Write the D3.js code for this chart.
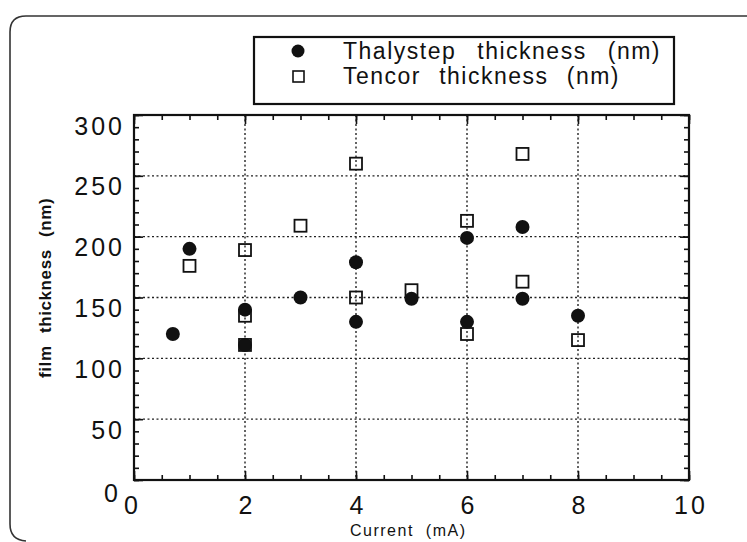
<!DOCTYPE html>
<html>
<head>
<meta charset="utf-8">
<script src="https://cdn.jsdelivr.net/npm/d3@7"></script>
<style>
  body { margin: 0; background: #fff; }
  svg { display: block; }
  text { font-family: "Liberation Sans", Arial, sans-serif; fill: #111; }
</style>
</head>
<body>
<div id="wrapper"></div>
<script>
// data
const thalyCurrent = [0.7, 1, 2, 2, 3, 4, 4, 5, 6, 6, 7, 7, 8]
const thalyValues  = [120, 190, 140, 111, 150, 179, 130, 149, 199, 130, 208, 149, 135]
const tencorCurrent = [1, 2, 2, 2, 3, 4, 4, 5, 6, 6, 7, 7, 8]
const tencorValues  = [176, 189, 135, 111, 209, 260, 150, 156, 213, 120, 268, 163, 115]

const xTicks = [0, 2, 4, 6, 8, 10]
const yTicks = [0, 50, 100, 150, 200, 250, 300]
const seriesNames = ['Thalystep thickness (nm)', 'Tencor thickness (nm)']

function drawChart() {
    const width = 747, height = 542
    const plot = { left: 134, right: 689, top: 115, bottom: 480 }

    const svg = d3.select('#wrapper').append('svg')
        .attr('width', width)
        .attr('height', height)

    // outer rounded frame (runs off the right edge)
    svg.append('path')
        .attr('d', `M ${width + 5} 16 L 26 16 Q 10 16 10 32 L 10 524 Q 10 540 26 541`)
        .attr('fill', 'none')
        .attr('stroke', '#333')
        .attr('stroke-width', 1.6)

    const x = d3.scaleLinear().domain([0, 10]).range([plot.left, plot.right])
    const y = d3.scaleLinear().domain([0, 300]).range([plot.bottom, plot.top])

    // grid
    const grid = svg.append('g').attr('class', 'grid')
        .attr('stroke', '#222').attr('stroke-width', 1.4).attr('stroke-dasharray', '2,2.5')
    grid.selectAll('.hgrid').data(yTicks.filter(d => d > 0 && d < 300))
        .enter().append('line')
        .attr('x1', plot.left).attr('x2', plot.right)
        .attr('y1', d => y(d)).attr('y2', d => y(d))
    grid.selectAll('.vgrid').data(xTicks.filter(d => d > 0 && d < 10))
        .enter().append('line')
        .attr('y1', plot.top).attr('y2', plot.bottom)
        .attr('x1', d => x(d)).attr('x2', d => x(d))

    // axes, ticks pointing inward
    const xMinor = d3.range(0, 10.01, 0.5)
    const yMinor = d3.range(0, 300.1, 10)

    function styleAxis(g) {
        g.select('.domain').remove()
        g.selectAll('line').attr('stroke', '#111').attr('stroke-width', 1.6)
    }

    svg.append('g').attr('transform', `translate(0,${plot.bottom})`)
        .call(d3.axisBottom(x).tickValues(xMinor).tickSize(-5).tickFormat(''))
        .call(styleAxis)
    svg.append('g').attr('transform', `translate(0,${plot.top})`)
        .call(d3.axisTop(x).tickValues(xMinor).tickSize(-5).tickFormat(''))
        .call(styleAxis)
    svg.append('g').attr('transform', `translate(${plot.left},0)`)
        .call(d3.axisLeft(y).tickValues(yMinor).tickSize(-5).tickFormat(''))
        .call(styleAxis)
    svg.append('g').attr('transform', `translate(${plot.right},0)`)
        .call(d3.axisRight(y).tickValues(yMinor).tickSize(-5).tickFormat(''))
        .call(styleAxis)

    const xAxis = svg.append('g').attr('transform', `translate(0,${plot.bottom})`)
        .call(d3.axisBottom(x).tickValues(xTicks).tickSize(-9).tickPadding(16).tickFormat(d3.format('d')))
        .call(styleAxis)
    xAxis.selectAll('text')
        .style('font-size', '25px').style('letter-spacing', '3px')
        .attr('dx', 1.5)
    xAxis.selectAll('.tick').filter(d => d === 0).select('text').attr('dx', -2)

    svg.append('g').attr('transform', `translate(0,${plot.top})`)
        .call(d3.axisTop(x).tickValues(xTicks).tickSize(-9).tickFormat(''))
        .call(styleAxis)

    const yAxis = svg.append('g').attr('transform', `translate(${plot.left},0)`)
        .call(d3.axisLeft(y).tickValues(yTicks).tickSize(-9).tickPadding(9).tickFormat(d3.format('d')))
        .call(styleAxis)
    yAxis.selectAll('text')
        .style('font-size', '25px').style('letter-spacing', '3px')
        .attr('dy', 19)
    yAxis.selectAll('.tick').filter(d => d === 0).select('text').attr('dx', -4).attr('dy', 21)

    svg.append('g').attr('transform', `translate(${plot.right},0)`)
        .call(d3.axisRight(y).tickValues(yTicks).tickSize(-9).tickFormat(''))
        .call(styleAxis)

    // plot frame
    svg.append('rect')
        .attr('x', plot.left).attr('y', plot.top)
        .attr('width', plot.right - plot.left).attr('height', plot.bottom - plot.top)
        .attr('fill', 'none').attr('stroke', '#111').attr('stroke-width', 2.2)

    // axis titles
    svg.append('text')
        .attr('x', 350).attr('y', 536)
        .style('font-size', '16px').style('letter-spacing', '1.5px').style('word-spacing', '6px')
        .text('Current (mA)')

    svg.append('text')
        .attr('transform', 'translate(51,378) rotate(-90)')
        .style('font-size', '17px').style('letter-spacing', '0.6px').style('word-spacing', '7px')
        .style('font-weight', 'bold')
        .text('film thickness (nm)')

    // data: squares first, filled circles on top
    const tencor = tencorCurrent.map((c, i) => ({ c, v: tencorValues[i] }))
    const thaly = thalyCurrent.map((c, i) => ({ c, v: thalyValues[i] }))
    const sq = 12

    svg.selectAll('.tencor').data(tencor)
        .enter().append('rect')
        .attr('class', 'tencor')
        .attr('x', d => x(d.c) - sq / 2).attr('y', d => y(d.v) - sq / 2)
        .attr('width', sq).attr('height', sq)
        .attr('fill', 'none').attr('stroke', '#111').attr('stroke-width', 1.8)

    svg.selectAll('.thaly').data(thaly)
        .enter().append('circle')
        .attr('class', 'thaly')
        .attr('cx', d => x(d.c)).attr('cy', d => y(d.v))
        .attr('r', 7)
        .attr('fill', '#111')

    // legend
    const legend = svg.append('g').attr('class', 'legend')
    legend.append('rect')
        .attr('x', 254).attr('y', 37).attr('width', 420).attr('height', 67)
        .attr('fill', '#fff').attr('stroke', '#111').attr('stroke-width', 2.2)
    legend.append('circle').attr('cx', 298).attr('cy', 51).attr('r', 6.5).attr('fill', '#111')
    legend.append('rect').attr('x', 293).attr('y', 71).attr('width', 11).attr('height', 11)
        .attr('fill', 'none').attr('stroke', '#111').attr('stroke-width', 1.6)

    // words spread so each line spans the same width as the print
    const lineEnds = [661, 620]
    seriesNames.forEach((name, i) => {
        const t = legend.append('text').attr('y', i === 0 ? 59 : 84)
            .style('font-size', '23px').style('letter-spacing', '1.5px')
        const words = name.split(' ')
        const spans = words.map(w => t.append('tspan').text(w))
        const widths = spans.map(s => s.node().getComputedTextLength())
        const gap = (lineEnds[i] - 343 - d3.sum(widths)) / (words.length - 1)
        let pos = 343
        spans.forEach((s, j) => {
            s.attr('x', pos)
            pos += widths[j] + gap
        })
    })
}

drawChart()
</script>
</body>
</html>
